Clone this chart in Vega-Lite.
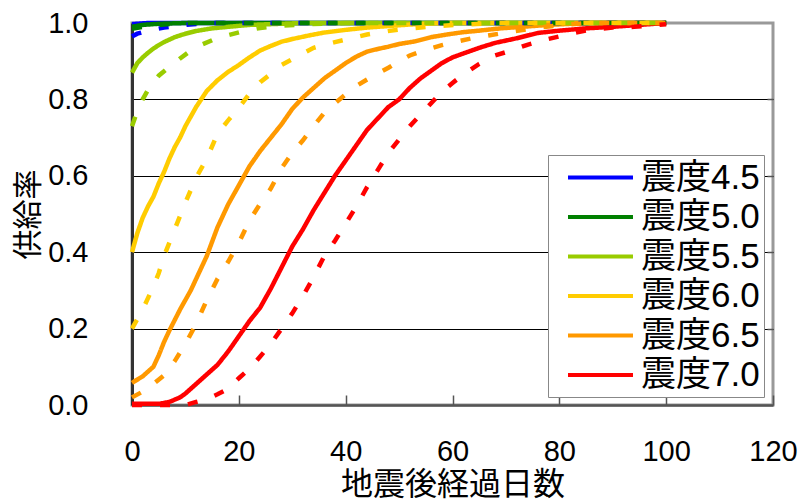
{
  "$schema": "https://vega.github.io/schema/vega-lite/v6.json",
  "width": 641,
  "height": 382,
  "autosize": {"type": "none"},
  "padding": {"left": 132, "top": 23, "right": 31, "bottom": 95},
  "config": {
    "font": "Liberation Sans, Noto Sans CJK JP",
    "view": {"stroke": "#999999", "strokeWidth": 3}
  },
  "data": {"values": [
    {"d":0,"r":0.997,"s":"震度4.5","t":"solid"},{"d":3,"r":1.0,"s":"震度4.5","t":"solid"},{"d":100,"r":1.0,"s":"震度4.5","t":"solid"},
    {"d":0,"r":0.99,"s":"震度5.0","t":"solid"},{"d":2,"r":0.995,"s":"震度5.0","t":"solid"},{"d":5,"r":0.998,"s":"震度5.0","t":"solid"},{"d":10,"r":1.0,"s":"震度5.0","t":"solid"},{"d":100,"r":1.0,"s":"震度5.0","t":"solid"},
    {"d":0,"r":0.87,"s":"震度5.5","t":"solid"},{"d":1,"r":0.895,"s":"震度5.5","t":"solid"},{"d":2,"r":0.91,"s":"震度5.5","t":"solid"},{"d":3,"r":0.922,"s":"震度5.5","t":"solid"},{"d":4,"r":0.933,"s":"震度5.5","t":"solid"},{"d":5,"r":0.942,"s":"震度5.5","t":"solid"},{"d":6,"r":0.95,"s":"震度5.5","t":"solid"},{"d":8,"r":0.963,"s":"震度5.5","t":"solid"},{"d":10,"r":0.972,"s":"震度5.5","t":"solid"},{"d":12,"r":0.979,"s":"震度5.5","t":"solid"},{"d":15,"r":0.986,"s":"震度5.5","t":"solid"},{"d":18,"r":0.99,"s":"震度5.5","t":"solid"},{"d":22,"r":0.995,"s":"震度5.5","t":"solid"},{"d":28,"r":0.998,"s":"震度5.5","t":"solid"},{"d":32,"r":1.0,"s":"震度5.5","t":"solid"},{"d":100,"r":1.0,"s":"震度5.5","t":"solid"},
    {"d":0,"r":0.40,"s":"震度6.0","t":"solid"},{"d":1,"r":0.45,"s":"震度6.0","t":"solid"},{"d":2,"r":0.49,"s":"震度6.0","t":"solid"},{"d":3,"r":0.52,"s":"震度6.0","t":"solid"},{"d":4,"r":0.545,"s":"震度6.0","t":"solid"},{"d":5,"r":0.58,"s":"震度6.0","t":"solid"},{"d":6,"r":0.61,"s":"震度6.0","t":"solid"},{"d":7,"r":0.645,"s":"震度6.0","t":"solid"},{"d":8,"r":0.675,"s":"震度6.0","t":"solid"},{"d":9,"r":0.70,"s":"震度6.0","t":"solid"},{"d":10,"r":0.73,"s":"震度6.0","t":"solid"},{"d":12,"r":0.78,"s":"震度6.0","t":"solid"},{"d":14,"r":0.822,"s":"震度6.0","t":"solid"},{"d":16,"r":0.85,"s":"震度6.0","t":"solid"},{"d":18,"r":0.872,"s":"震度6.0","t":"solid"},{"d":20,"r":0.89,"s":"震度6.0","t":"solid"},{"d":22,"r":0.91,"s":"震度6.0","t":"solid"},{"d":24,"r":0.928,"s":"震度6.0","t":"solid"},{"d":26,"r":0.94,"s":"震度6.0","t":"solid"},{"d":28,"r":0.951,"s":"震度6.0","t":"solid"},{"d":30,"r":0.958,"s":"震度6.0","t":"solid"},{"d":33,"r":0.967,"s":"震度6.0","t":"solid"},{"d":36,"r":0.975,"s":"震度6.0","t":"solid"},{"d":40,"r":0.982,"s":"震度6.0","t":"solid"},{"d":44,"r":0.988,"s":"震度6.0","t":"solid"},{"d":48,"r":0.992,"s":"震度6.0","t":"solid"},{"d":52,"r":0.996,"s":"震度6.0","t":"solid"},{"d":58,"r":1.0,"s":"震度6.0","t":"solid"},{"d":100,"r":1.0,"s":"震度6.0","t":"solid"},
    {"d":0,"r":0.058,"s":"震度6.5","t":"solid"},{"d":2,"r":0.075,"s":"震度6.5","t":"solid"},{"d":4,"r":0.1,"s":"震度6.5","t":"solid"},{"d":5,"r":0.13,"s":"震度6.5","t":"solid"},{"d":6,"r":0.165,"s":"震度6.5","t":"solid"},{"d":7,"r":0.195,"s":"震度6.5","t":"solid"},{"d":9,"r":0.25,"s":"震度6.5","t":"solid"},{"d":11,"r":0.3,"s":"震度6.5","t":"solid"},{"d":13,"r":0.36,"s":"震度6.5","t":"solid"},{"d":14,"r":0.39,"s":"震度6.5","t":"solid"},{"d":16,"r":0.465,"s":"震度6.5","t":"solid"},{"d":18,"r":0.525,"s":"震度6.5","t":"solid"},{"d":20,"r":0.575,"s":"震度6.5","t":"solid"},{"d":22,"r":0.625,"s":"震度6.5","t":"solid"},{"d":24,"r":0.665,"s":"震度6.5","t":"solid"},{"d":26,"r":0.70,"s":"震度6.5","t":"solid"},{"d":28,"r":0.735,"s":"震度6.5","t":"solid"},{"d":30,"r":0.775,"s":"震度6.5","t":"solid"},{"d":32,"r":0.805,"s":"震度6.5","t":"solid"},{"d":34,"r":0.83,"s":"震度6.5","t":"solid"},{"d":36,"r":0.855,"s":"震度6.5","t":"solid"},{"d":38,"r":0.875,"s":"震度6.5","t":"solid"},{"d":40,"r":0.895,"s":"震度6.5","t":"solid"},{"d":42,"r":0.912,"s":"震度6.5","t":"solid"},{"d":44,"r":0.925,"s":"震度6.5","t":"solid"},{"d":46,"r":0.932,"s":"震度6.5","t":"solid"},{"d":48,"r":0.938,"s":"震度6.5","t":"solid"},{"d":50,"r":0.945,"s":"震度6.5","t":"solid"},{"d":53,"r":0.952,"s":"震度6.5","t":"solid"},{"d":56,"r":0.963,"s":"震度6.5","t":"solid"},{"d":59,"r":0.97,"s":"震度6.5","t":"solid"},{"d":62,"r":0.976,"s":"震度6.5","t":"solid"},{"d":65,"r":0.98,"s":"震度6.5","t":"solid"},{"d":69,"r":0.986,"s":"震度6.5","t":"solid"},{"d":73,"r":0.99,"s":"震度6.5","t":"solid"},{"d":78,"r":0.995,"s":"震度6.5","t":"solid"},{"d":85,"r":1.0,"s":"震度6.5","t":"solid"},{"d":100,"r":1.0,"s":"震度6.5","t":"solid"},
    {"d":0,"r":0.003,"s":"震度7.0","t":"solid"},{"d":5,"r":0.003,"s":"震度7.0","t":"solid"},{"d":7,"r":0.008,"s":"震度7.0","t":"solid"},{"d":9,"r":0.02,"s":"震度7.0","t":"solid"},{"d":10,"r":0.03,"s":"震度7.0","t":"solid"},{"d":12,"r":0.055,"s":"震度7.0","t":"solid"},{"d":14,"r":0.08,"s":"震度7.0","t":"solid"},{"d":16,"r":0.105,"s":"震度7.0","t":"solid"},{"d":18,"r":0.14,"s":"震度7.0","t":"solid"},{"d":20,"r":0.18,"s":"震度7.0","t":"solid"},{"d":22,"r":0.22,"s":"震度7.0","t":"solid"},{"d":24,"r":0.255,"s":"震度7.0","t":"solid"},{"d":26,"r":0.305,"s":"震度7.0","t":"solid"},{"d":28,"r":0.36,"s":"震度7.0","t":"solid"},{"d":30,"r":0.415,"s":"震度7.0","t":"solid"},{"d":32,"r":0.46,"s":"震度7.0","t":"solid"},{"d":34,"r":0.51,"s":"震度7.0","t":"solid"},{"d":36,"r":0.555,"s":"震度7.0","t":"solid"},{"d":38,"r":0.6,"s":"震度7.0","t":"solid"},{"d":40,"r":0.64,"s":"震度7.0","t":"solid"},{"d":42,"r":0.68,"s":"震度7.0","t":"solid"},{"d":44,"r":0.72,"s":"震度7.0","t":"solid"},{"d":46,"r":0.75,"s":"震度7.0","t":"solid"},{"d":48,"r":0.78,"s":"震度7.0","t":"solid"},{"d":50,"r":0.80,"s":"震度7.0","t":"solid"},{"d":52,"r":0.83,"s":"震度7.0","t":"solid"},{"d":54,"r":0.855,"s":"震度7.0","t":"solid"},{"d":56,"r":0.875,"s":"震度7.0","t":"solid"},{"d":58,"r":0.895,"s":"震度7.0","t":"solid"},{"d":60,"r":0.91,"s":"震度7.0","t":"solid"},{"d":62,"r":0.92,"s":"震度7.0","t":"solid"},{"d":65,"r":0.935,"s":"震度7.0","t":"solid"},{"d":68,"r":0.948,"s":"震度7.0","t":"solid"},{"d":72,"r":0.96,"s":"震度7.0","t":"solid"},{"d":76,"r":0.974,"s":"震度7.0","t":"solid"},{"d":80,"r":0.98,"s":"震度7.0","t":"solid"},{"d":85,"r":0.986,"s":"震度7.0","t":"solid"},{"d":90,"r":0.99,"s":"震度7.0","t":"solid"},{"d":95,"r":0.995,"s":"震度7.0","t":"solid"},{"d":100,"r":1.0,"s":"震度7.0","t":"solid"},
    {"d":0,"r":0.965,"s":"震度4.5","t":"dashed"},{"d":1,"r":0.972,"s":"震度4.5","t":"dashed"},{"d":3,"r":0.98,"s":"震度4.5","t":"dashed"},{"d":6,"r":0.988,"s":"震度4.5","t":"dashed"},{"d":10,"r":0.995,"s":"震度4.5","t":"dashed"},{"d":15,"r":1.0,"s":"震度4.5","t":"dashed"},{"d":100,"r":1.0,"s":"震度4.5","t":"dashed"},
    {"d":0,"r":0.985,"s":"震度5.0","t":"dashed"},{"d":3,"r":0.992,"s":"震度5.0","t":"dashed"},{"d":6,"r":0.996,"s":"震度5.0","t":"dashed"},{"d":10,"r":1.0,"s":"震度5.0","t":"dashed"},{"d":100,"r":1.0,"s":"震度5.0","t":"dashed"},
    {"d":0,"r":0.73,"s":"震度5.5","t":"dashed"},{"d":1,"r":0.77,"s":"震度5.5","t":"dashed"},{"d":2,"r":0.80,"s":"震度5.5","t":"dashed"},{"d":3,"r":0.825,"s":"震度5.5","t":"dashed"},{"d":4,"r":0.845,"s":"震度5.5","t":"dashed"},{"d":5,"r":0.862,"s":"震度5.5","t":"dashed"},{"d":7,"r":0.885,"s":"震度5.5","t":"dashed"},{"d":9,"r":0.907,"s":"震度5.5","t":"dashed"},{"d":11,"r":0.928,"s":"震度5.5","t":"dashed"},{"d":13,"r":0.943,"s":"震度5.5","t":"dashed"},{"d":15,"r":0.955,"s":"震度5.5","t":"dashed"},{"d":18,"r":0.968,"s":"震度5.5","t":"dashed"},{"d":21,"r":0.979,"s":"震度5.5","t":"dashed"},{"d":24,"r":0.987,"s":"震度5.5","t":"dashed"},{"d":28,"r":0.993,"s":"震度5.5","t":"dashed"},{"d":33,"r":0.997,"s":"震度5.5","t":"dashed"},{"d":40,"r":1.0,"s":"震度5.5","t":"dashed"},{"d":100,"r":1.0,"s":"震度5.5","t":"dashed"},
    {"d":0,"r":0.20,"s":"震度6.0","t":"dashed"},{"d":2,"r":0.25,"s":"震度6.0","t":"dashed"},{"d":4,"r":0.31,"s":"震度6.0","t":"dashed"},{"d":5,"r":0.345,"s":"震度6.0","t":"dashed"},{"d":6,"r":0.39,"s":"震度6.0","t":"dashed"},{"d":8,"r":0.46,"s":"震度6.0","t":"dashed"},{"d":10,"r":0.53,"s":"震度6.0","t":"dashed"},{"d":12,"r":0.595,"s":"震度6.0","t":"dashed"},{"d":14,"r":0.645,"s":"震度6.0","t":"dashed"},{"d":16,"r":0.71,"s":"震度6.0","t":"dashed"},{"d":18,"r":0.745,"s":"震度6.0","t":"dashed"},{"d":20,"r":0.778,"s":"震度6.0","t":"dashed"},{"d":22,"r":0.815,"s":"震度6.0","t":"dashed"},{"d":24,"r":0.845,"s":"震度6.0","t":"dashed"},{"d":26,"r":0.867,"s":"震度6.0","t":"dashed"},{"d":28,"r":0.89,"s":"震度6.0","t":"dashed"},{"d":30,"r":0.905,"s":"震度6.0","t":"dashed"},{"d":32,"r":0.92,"s":"震度6.0","t":"dashed"},{"d":34,"r":0.935,"s":"震度6.0","t":"dashed"},{"d":36,"r":0.943,"s":"震度6.0","t":"dashed"},{"d":38,"r":0.95,"s":"震度6.0","t":"dashed"},{"d":41,"r":0.96,"s":"震度6.0","t":"dashed"},{"d":44,"r":0.97,"s":"震度6.0","t":"dashed"},{"d":47,"r":0.977,"s":"震度6.0","t":"dashed"},{"d":50,"r":0.983,"s":"震度6.0","t":"dashed"},{"d":53,"r":0.987,"s":"震度6.0","t":"dashed"},{"d":57,"r":0.992,"s":"震度6.0","t":"dashed"},{"d":62,"r":0.996,"s":"震度6.0","t":"dashed"},{"d":68,"r":1.0,"s":"震度6.0","t":"dashed"},{"d":100,"r":1.0,"s":"震度6.0","t":"dashed"},
    {"d":0,"r":0.02,"s":"震度6.5","t":"dashed"},{"d":2,"r":0.035,"s":"震度6.5","t":"dashed"},{"d":4,"r":0.055,"s":"震度6.5","t":"dashed"},{"d":6,"r":0.078,"s":"震度6.5","t":"dashed"},{"d":8,"r":0.115,"s":"震度6.5","t":"dashed"},{"d":10,"r":0.16,"s":"震度6.5","t":"dashed"},{"d":12,"r":0.212,"s":"震度6.5","t":"dashed"},{"d":14,"r":0.275,"s":"震度6.5","t":"dashed"},{"d":16,"r":0.33,"s":"震度6.5","t":"dashed"},{"d":18,"r":0.375,"s":"震度6.5","t":"dashed"},{"d":20,"r":0.425,"s":"震度6.5","t":"dashed"},{"d":22,"r":0.483,"s":"震度6.5","t":"dashed"},{"d":24,"r":0.527,"s":"震度6.5","t":"dashed"},{"d":26,"r":0.567,"s":"震度6.5","t":"dashed"},{"d":28,"r":0.62,"s":"震度6.5","t":"dashed"},{"d":30,"r":0.66,"s":"震度6.5","t":"dashed"},{"d":32,"r":0.693,"s":"震度6.5","t":"dashed"},{"d":34,"r":0.73,"s":"震度6.5","t":"dashed"},{"d":36,"r":0.765,"s":"震度6.5","t":"dashed"},{"d":38,"r":0.79,"s":"震度6.5","t":"dashed"},{"d":40,"r":0.813,"s":"震度6.5","t":"dashed"},{"d":42,"r":0.835,"s":"震度6.5","t":"dashed"},{"d":44,"r":0.852,"s":"震度6.5","t":"dashed"},{"d":46,"r":0.868,"s":"震度6.5","t":"dashed"},{"d":48,"r":0.883,"s":"震度6.5","t":"dashed"},{"d":50,"r":0.9,"s":"震度6.5","t":"dashed"},{"d":52,"r":0.915,"s":"震度6.5","t":"dashed"},{"d":55,"r":0.93,"s":"震度6.5","t":"dashed"},{"d":58,"r":0.942,"s":"震度6.5","t":"dashed"},{"d":61,"r":0.952,"s":"震度6.5","t":"dashed"},{"d":64,"r":0.961,"s":"震度6.5","t":"dashed"},{"d":67,"r":0.968,"s":"震度6.5","t":"dashed"},{"d":70,"r":0.975,"s":"震度6.5","t":"dashed"},{"d":75,"r":0.986,"s":"震度6.5","t":"dashed"},{"d":80,"r":0.994,"s":"震度6.5","t":"dashed"},{"d":85,"r":1.0,"s":"震度6.5","t":"dashed"},{"d":100,"r":1.0,"s":"震度6.5","t":"dashed"},
    {"d":0,"r":0.0,"s":"震度7.0","t":"dashed"},{"d":10,"r":0.0,"s":"震度7.0","t":"dashed"},{"d":12,"r":0.008,"s":"震度7.0","t":"dashed"},{"d":14,"r":0.015,"s":"震度7.0","t":"dashed"},{"d":16,"r":0.028,"s":"震度7.0","t":"dashed"},{"d":18,"r":0.042,"s":"震度7.0","t":"dashed"},{"d":20,"r":0.07,"s":"震度7.0","t":"dashed"},{"d":22,"r":0.095,"s":"震度7.0","t":"dashed"},{"d":24,"r":0.127,"s":"震度7.0","t":"dashed"},{"d":26,"r":0.16,"s":"震度7.0","t":"dashed"},{"d":28,"r":0.2,"s":"震度7.0","t":"dashed"},{"d":30,"r":0.24,"s":"震度7.0","t":"dashed"},{"d":32,"r":0.285,"s":"震度7.0","t":"dashed"},{"d":34,"r":0.335,"s":"震度7.0","t":"dashed"},{"d":36,"r":0.39,"s":"震度7.0","t":"dashed"},{"d":38,"r":0.43,"s":"震度7.0","t":"dashed"},{"d":40,"r":0.475,"s":"震度7.0","t":"dashed"},{"d":42,"r":0.52,"s":"震度7.0","t":"dashed"},{"d":44,"r":0.57,"s":"震度7.0","t":"dashed"},{"d":46,"r":0.615,"s":"震度7.0","t":"dashed"},{"d":48,"r":0.66,"s":"震度7.0","t":"dashed"},{"d":50,"r":0.695,"s":"震度7.0","t":"dashed"},{"d":52,"r":0.73,"s":"震度7.0","t":"dashed"},{"d":54,"r":0.76,"s":"震度7.0","t":"dashed"},{"d":56,"r":0.79,"s":"震度7.0","t":"dashed"},{"d":58,"r":0.82,"s":"震度7.0","t":"dashed"},{"d":60,"r":0.843,"s":"震度7.0","t":"dashed"},{"d":62,"r":0.865,"s":"震度7.0","t":"dashed"},{"d":65,"r":0.893,"s":"震度7.0","t":"dashed"},{"d":68,"r":0.915,"s":"震度7.0","t":"dashed"},{"d":71,"r":0.928,"s":"震度7.0","t":"dashed"},{"d":74,"r":0.943,"s":"震度7.0","t":"dashed"},{"d":77,"r":0.955,"s":"震度7.0","t":"dashed"},{"d":80,"r":0.965,"s":"震度7.0","t":"dashed"},{"d":83,"r":0.975,"s":"震度7.0","t":"dashed"},{"d":86,"r":0.983,"s":"震度7.0","t":"dashed"},{"d":90,"r":0.988,"s":"震度7.0","t":"dashed"},{"d":94,"r":0.99,"s":"震度7.0","t":"dashed"},{"d":100,"r":0.997,"s":"震度7.0","t":"dashed"}
  ]},
  "layer": [
    {
      "mark": {"type": "line", "strokeWidth": 4.5, "strokeCap": "butt"},
      "encoding": {
        "x": {"field": "d", "type": "quantitative",
          "scale": {"domain": [0, 120], "nice": false},
          "axis": {"title": "地震後経過日数", "values": [0,20,40,60,80,100,120], "grid": false,
            "tickSize": -10, "tickColor": "#555555", "tickWidth": 1.5,
            "domainColor": "#555555", "domainWidth": 2.5, "labelFlush": false,
            "labelFontSize": 29, "labelColor": "#000000", "labelPadding": 42,
            "titleFontSize": 32, "titleColor": "#000000", "titleFontWeight": "normal",
            "titleBaseline": "top", "titleY": 64}},
        "y": {"field": "r", "type": "quantitative",
          "scale": {"domain": [0, 1], "nice": false},
          "axis": {"title": "供給率", "values": [0,0.2,0.4,0.6,0.8,1.0], "format": ".1f",
            "ticks": false, "grid": true, "labelFlush": false,
            "gridColor": {"condition": {"test": "datum.value <= 0 || datum.value >= 1", "value": "transparent"}, "value": "#000000"},
            "gridWidth": 1,
            "domainColor": "#333333", "domainWidth": 3,
            "labelFontSize": 29, "labelColor": "#000000", "labelPadding": 44,
            "titleFontSize": 30, "titleColor": "#000000", "titleFontWeight": "normal",
            "titleBaseline": "middle", "titleX": -104, "titleY": 191, "titleAngle": -90}},
        "color": {"field": "s", "type": "nominal",
          "scale": {"domain": ["震度4.5","震度5.0","震度5.5","震度6.0","震度6.5","震度7.0"],
                    "range": ["#0000FF","#008000","#99CC00","#FFCC00","#FF9900","#FF0000"]},
          "legend": {"title": null, "orient": "none", "legendX": 416, "legendY": 132,
            "symbolType": "M-2,0H2", "symbolSize": 1056, "symbolStrokeWidth": 4,
            "symbolOffset": 30, "labelOffset": 22,
            "labelFontSize": 35, "labelColor": "#000000", "labelLimit": 300,
            "padding": 4, "rowPadding": 2.5,
            "fillColor": "#FFFFFF", "strokeColor": "#888888"}},
        "strokeDash": {"field": "t", "type": "nominal",
          "scale": {"domain": ["solid","dashed"], "range": [[1,0],[10,18]]},
          "legend": null}
      }
    },
    {
      "mark": {"type": "line", "strokeOpacity": 0},
      "encoding": {
        "x": {"field": "d", "type": "quantitative"},
        "y": {"field": "r", "type": "quantitative",
          "axis": {"orient": "right", "title": null, "labels": false, "domain": false, "grid": false,
            "values": [0.2,0.4,0.6,0.8], "tickSize": -6, "tickColor": "#555555", "tickWidth": 1.5}}
      }
    }
  ],
  "resolve": {"axis": {"y": "independent"}}
}
